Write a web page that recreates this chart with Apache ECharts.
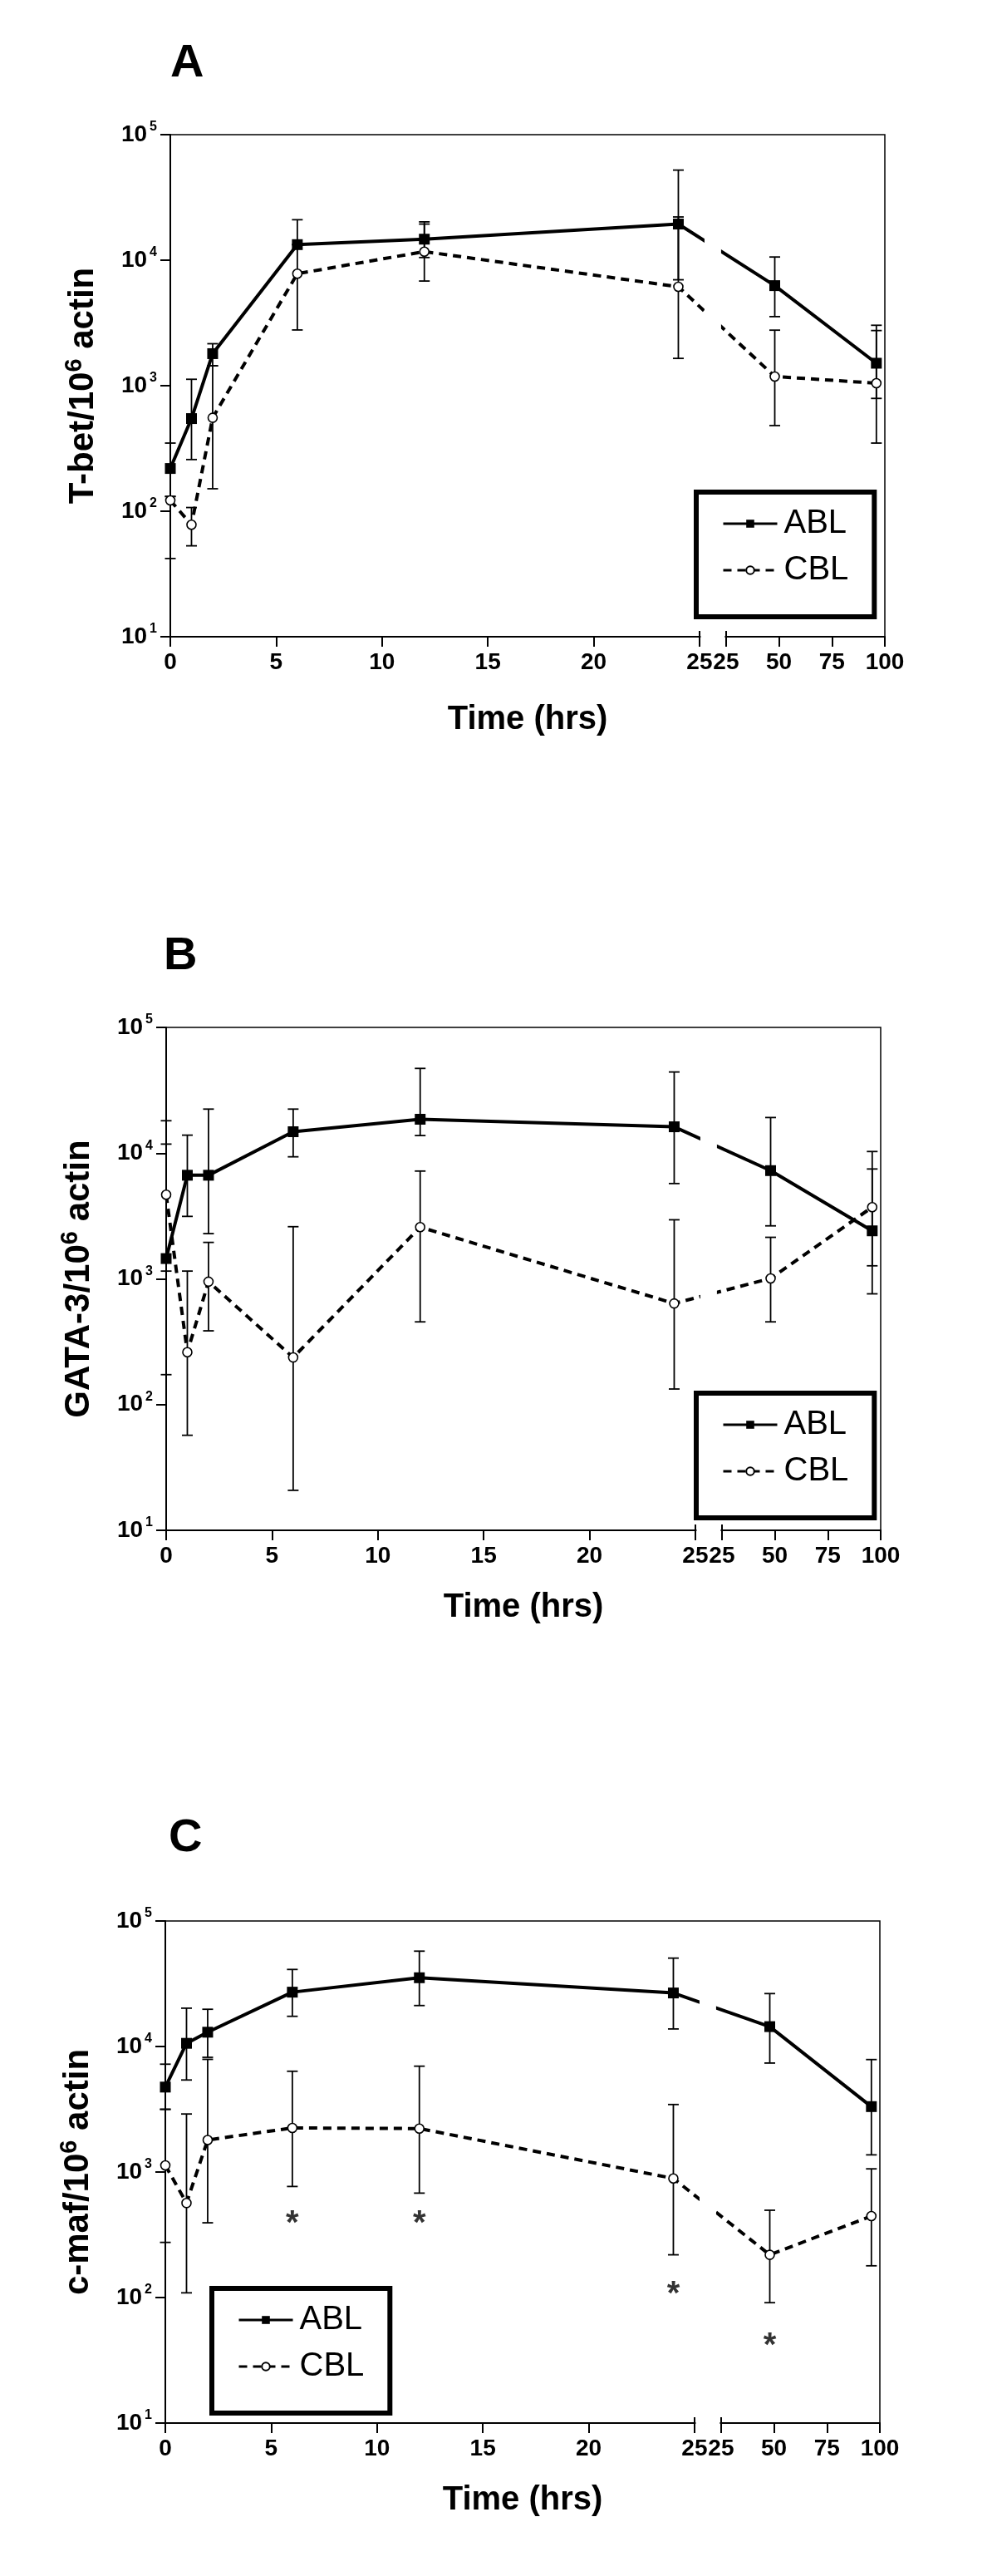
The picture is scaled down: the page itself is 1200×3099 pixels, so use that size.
<!DOCTYPE html>
<html>
<head>
<meta charset="utf-8">
<script src="https://cdn.jsdelivr.net/npm/echarts@6/dist/echarts.min.js"></script>
<style>
html, body { margin: 0; padding: 0; background: #fff; }
#chart { width: 1200px; height: 3099px; }
</style>
</head>
<body>
<div id="chart"></div>
<script>
// sampling times (hours)
const hours = [0, 1, 2, 6, 12, 24, 48, 96];

// A: T-bet / 10^6 actin
const tbetABL = [219, 547, 1800, 13300, 14700, 19400, 6270, 1510];
const tbetABLLow = [131, 258, 1440, 13300, 10500, 6980, 3550, 792];
const tbetABLHigh = [349, 1125, 2160, 21000, 20200, 52200, 10600, 3030];
const tbetCBL = [122, 78, 555, 7800, 11700, 6140, 1183, 1047];
const tbetCBLLow = [42, 53, 151, 2780, 6820, 1650, 481, 349];
const tbetCBLHigh = [131, 107, 1440, 13300, 19400, 22100, 2770, 2750];

// B: GATA-3 / 10^6 actin
const gataABL = [1450, 6670, 6670, 14800, 18600, 16200, 7260, 2410];
const gataABLLow = [1153, 3140, 2290, 9350, 13800, 5730, 2640, 760];
const gataABLHigh = [11800, 13900, 22400, 22400, 47200, 44200, 19200, 10300];
const gataCBL = [4670, 261, 950, 237, 2580, 637, 1008, 3720];
const gataCBLLow = [173, 57, 386, 20.8, 455, 133, 455, 1270];
const gataCBLHigh = [18100, 1153, 1950, 2600, 7200, 2950, 2140, 7480];

// C: c-maf / 10^6 actin
const cmafABL = [4750, 10600, 13000, 27100, 35300, 26700, 14400, 3320];
const cmafABLLow = [3160, 5410, 8200, 17400, 21200, 13800, 7380, 1370];
const cmafABLHigh = [7230, 20200, 19800, 41100, 57500, 50600, 26400, 7870];
const cmafCBL = [1130, 566, 1800, 2245, 2220, 889, 219, 446];
const cmafCBLLow = [275, 109, 394, 767, 679, 219, 91, 179];
const cmafCBLHigh = [3160, 2900, 7900, 6350, 6970, 3450, 496, 1060];
// significance stars (panel C)
const cmafStarHours = [6, 12, 24, 48];
const cmafStarLevel = [440, 440, 120, 47];

// tick labels of the broken time axis
const leftTickHours = [0, 5, 10, 15, 20, 25];
const rightTickHours = [25, 50, 75, 100];

// broken axis: 0-25 h at full scale, a gap, then 25-100 h at 1/10 scale
const BREAK = 25, GAP = 1.255, SQUEEZE = 0.1;
function axisPos(h) { return h <= BREAK ? h : BREAK + GAP + (h - BREAK) * SQUEEZE; }
function rightPos(h) { return BREAK + GAP + (h - BREAK) * SQUEEZE; }
const tickPos = leftTickHours.concat(rightTickHours.map(rightPos));
const AXIS_MAX = rightPos(100);

const FONT = '"Liberation Sans", Arial, Helvetica, sans-serif';

const panels = [
  { letter: 'A', label: 'T-bet/10', abl: tbetABL, ablLo: tbetABLLow, ablHi: tbetABLHigh,
    cbl: tbetCBL, cblLo: tbetCBLLow, cblHi: tbetCBLHigh,
    grid: { left: 205, top: 162, width: 860, height: 604 }, timeGap: 80,
    title: { left: 205, top: 49 }, legend: { left: 838, top: 592 } },
  { letter: 'B', label: 'GATA-3/10', abl: gataABL, ablLo: gataABLLow, ablHi: gataABLHigh,
    cbl: gataCBL, cblLo: gataCBLLow, cblHi: gataCBLHigh,
    grid: { left: 200, top: 1236, width: 860, height: 605 }, timeGap: 73,
    title: { left: 197, top: 1123 }, legend: { left: 838, top: 1676 } },
  { letter: 'C', label: 'c-maf/10', abl: cmafABL, ablLo: cmafABLLow, ablHi: cmafABLHigh,
    cbl: cmafCBL, cblLo: cmafCBLLow, cblHi: cmafCBLHigh,
    grid: { left: 199, top: 2311, width: 860, height: 604 }, timeGap: 73,
    title: { left: 203, top: 2184 }, legend: { left: 255, top: 2753 } }
];

function errorBars(x, y) {
  return {
    type: 'custom',
    xAxisIndex: x, yAxisIndex: y,
    clip: false, z: 2, silent: true,
    renderItem(params, api) {
      const hi = api.coord([api.value(0), api.value(2)]);
      const lo = api.coord([api.value(0), api.value(1)]);
      const w = 6.5;
      const st = { stroke: '#000', lineWidth: 1.8 };
      return { type: 'group', children: [
        { type: 'line', shape: { x1: hi[0], y1: hi[1], x2: lo[0], y2: lo[1] }, style: st },
        { type: 'line', shape: { x1: hi[0] - w, y1: hi[1], x2: hi[0] + w, y2: hi[1] }, style: st },
        { type: 'line', shape: { x1: lo[0] - w, y1: lo[1], x2: lo[0] + w, y2: lo[1] }, style: st }
      ] };
    }
  };
}

const option = {
  animation: false,
  backgroundColor: '#fff',
  title: [], grid: [], xAxis: [], yAxis: [], legend: [], series: []
};

panels.forEach((p, i) => {
  option.title.push({
    text: p.letter, left: p.title.left, top: p.title.top, padding: 0,
    textStyle: { fontSize: 56, fontWeight: 'bold', fontFamily: FONT, color: '#000', lineHeight: 56 }
  });
  option.grid.push(Object.assign({ show: true, borderColor: '#000', borderWidth: 1.5 }, p.grid));
  option.xAxis.push({
    type: 'value', gridIndex: i, min: 0, max: AXIS_MAX, position: 'bottom',
    axisLine: { onZero: false, lineStyle: { color: '#000', width: 2 } },
    axisTick: { customValues: tickPos, length: 12, lineStyle: { color: '#000', width: 2 } },
    axisLabel: {
      customValues: tickPos, margin: 17, hideOverlap: false,
      fontSize: 28, fontWeight: 'bold', fontFamily: FONT, color: '#000',
      formatter: v => v <= BREAK ? String(Math.round(v)) : String(Math.round(BREAK + (v - BREAK - GAP) / SQUEEZE))
    },
    splitLine: { show: false },
    name: 'Time (hrs)', nameLocation: 'middle', nameGap: p.timeGap,
    nameTextStyle: { fontSize: 40, fontWeight: 'bold', fontFamily: FONT, color: '#000', lineHeight: 40 }
  });
  // upward half of the break marks
  option.xAxis.push({
    type: 'value', gridIndex: i, min: 0, max: AXIS_MAX, position: 'bottom',
    axisLine: { show: false }, axisLabel: { show: false }, splitLine: { show: false },
    axisTick: { customValues: [BREAK, BREAK + GAP], inside: true, length: 7, lineStyle: { color: '#000', width: 2 } }
  });
  option.yAxis.push({
    type: 'log', logBase: 10, gridIndex: i, min: 10, max: 100000,
    axisLine: { show: true, onZero: false, lineStyle: { color: '#000', width: 2 } },
    axisTick: { show: true, length: 12, lineStyle: { color: '#000', width: 2 } },
    minorTick: { show: false },
    splitLine: { show: false },
    axisLabel: {
      margin: 16,
      formatter: v => '{b|10}{s|' + Math.round(Math.log10(v)) + '}',
      rich: {
        b: { fontSize: 28, fontWeight: 'bold', fontFamily: FONT, color: '#000', lineHeight: 34 },
        s: { fontSize: 16, fontWeight: 'bold', fontFamily: FONT, color: '#000', lineHeight: 24, verticalAlign: 'top', padding: [0, 0, 0, 3] }
      }
    },
    name: '{t|' + p.label + '}{s|6}{t| actin}', nameLocation: 'middle', nameRotate: 90, nameGap: 80,
    nameTextStyle: {
      rich: {
        t: { fontSize: 42, fontWeight: 'bold', fontFamily: FONT, color: '#000', lineHeight: 50 },
        s: { fontSize: 29, fontWeight: 'bold', fontFamily: FONT, color: '#000', lineHeight: 21, verticalAlign: 'top' }
      }
    }
  });
  option.legend.push({
    data: ['ABL', 'CBL'], orient: 'vertical', left: p.legend.left, top: p.legend.top, z: 200,
    selectedMode: false, itemWidth: 65, itemHeight: 12, itemGap: 16,
    padding: [18, 31, 36, 31], borderColor: '#000', borderWidth: 6, backgroundColor: '#fff',
    lineStyle: { width: 3 },
    textStyle: { fontSize: 40, fontFamily: FONT, color: '#000', lineHeight: 40, padding: [0, 0, 0, 3] }
  });

  const ex = 2 * i;
  const ablBars = errorBars(ex, i);
  ablBars.data = hours.map((h, k) => [axisPos(h), p.ablLo[k], p.ablHi[k]]);
  const cblBars = errorBars(ex, i);
  cblBars.data = hours.map((h, k) => [axisPos(h), p.cblLo[k], p.cblHi[k]]);
  option.series.push(ablBars, cblBars);
  option.series.push({
    name: 'ABL', type: 'line', xAxisIndex: ex, yAxisIndex: i, clip: false, z: 4,
    data: hours.map((h, k) => [axisPos(h), p.abl[k]]),
    symbol: 'rect', symbolSize: 13,
    itemStyle: { color: '#000' },
    lineStyle: { color: '#000', width: 4 }
  });
  option.series.push({
    name: 'CBL', type: 'line', xAxisIndex: ex, yAxisIndex: i, clip: false, z: 3,
    data: hours.map((h, k) => [axisPos(h), p.cbl[k]]),
    symbol: 'circle', symbolSize: 11, showAllSymbol: true,
    itemStyle: { color: '#fff', borderColor: '#000', borderWidth: 1.6 },
    lineStyle: { color: '#000', width: 4, type: [10, 7] }
  });
});

// significance stars on panel C
option.series.push({
  type: 'scatter', xAxisIndex: 4, yAxisIndex: 2, silent: true, z: 5,
  data: cmafStarHours.map((h, k) => [axisPos(h), cmafStarLevel[k]]),
  symbolSize: 1, itemStyle: { color: 'transparent' },
  label: { show: true, formatter: '*', position: 'inside', offset: [0, 9],
    fontSize: 40, fontWeight: 'bold', fontFamily: FONT, color: '#000' }
});

const chart = echarts.init(document.getElementById('chart'));
chart.setOption(option);

// white out the break region of each time axis (kept under the legends)
const gaps = [];
panels.forEach((p, i) => {
  const finder = { xAxisIndex: 2 * i, yAxisIndex: i };
  const a = chart.convertToPixel(finder, [BREAK, 100000]);
  const b = chart.convertToPixel(finder, [BREAK + GAP, 10]);
  gaps.push({ type: 'rect', z: 100, silent: true,
    shape: { x: a[0] + 6, y: a[1] + 1.5, width: b[0] - a[0] - 12, height: b[1] - a[1] - 1.5 },
    style: { fill: '#fff' } });
  gaps.push({ type: 'rect', z: 100, silent: true,
    shape: { x: a[0] + 1.5, y: b[1] - 3, width: b[0] - a[0] - 3, height: 6 },
    style: { fill: '#fff' } });
});
chart.setOption({ graphic: gaps });
</script>
</body>
</html>
